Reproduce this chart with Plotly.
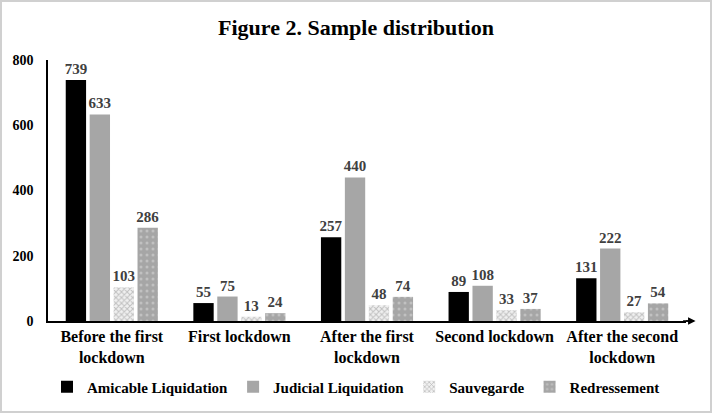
import plotly.graph_objects as go

categories = ["Before the first<br>lockdown", "First lockdown", "After the first<br>lockdown",
              "Second lockdown", "After the second<br>lockdown"]
amicable = [739, 55, 257, 89, 131]
judicial = [633, 75, 440, 108, 222]
sauvegarde = [103, 13, 48, 33, 27]
redressement = [286, 24, 74, 37, 54]
y_ticks = [0, 200, 400, 600, 800]

FONT = "Liberation Serif"
tfont = dict(family=FONT, size=15, color="#404040", weight="bold")

fig = go.Figure()
fig.add_bar(name="Amicable Liquidation", x=categories, y=amicable, marker_color="#000000",
            text=amicable)
fig.add_bar(name="Judicial Liquidation", x=categories, y=judicial, marker_color="#a6a6a6",
            text=judicial)
fig.add_bar(name="Sauvegarde", x=categories, y=sauvegarde,
            marker=dict(color="#ffffff",
                        pattern=dict(shape="x", fgcolor="#909090", bgcolor="#f0f0f0", size=4, solidity=0.45)),
            text=sauvegarde)
fig.add_bar(name="Redressement", x=categories, y=redressement,
            marker=dict(color="#a6a6a6",
                        pattern=dict(shape=".", fgcolor="#dcdcdc", bgcolor="#a6a6a6", size=6, solidity=0.2)),
            text=redressement)
fig.update_traces(textposition="outside", textfont=tfont, constraintext="none",
                  cliponaxis=False, marker_line_width=0)

fig.update_layout(
    width=712, height=413,
    paper_bgcolor="white", plot_bgcolor="white",
    margin=dict(l=48, r=26, t=60, b=92, autoexpand=False),
    title=dict(text="Figure 2. Sample distribution", x=0.5, xanchor="center",
               xref="container", y=1 - 27 / 413, yanchor="middle",
               font=dict(family=FONT, size=22, color="#000000", weight="bold")),
    barmode="group", bargap=0.25, bargroupgap=0.15,
    showlegend=True,
    legend=dict(orientation="h", x=0.5, xanchor="center", xref="container",
                y=1 - 387 / 413, yanchor="middle", yref="container",
                font=dict(family=FONT, size=15, color="#000000", weight="bold"), itemwidth=30,
                traceorder="normal"),
    font=dict(family=FONT),
)
fig.update_xaxes(showline=True, linecolor="#000000", linewidth=1.5, ticks="",
                 tickfont=dict(family=FONT, size=16, color="#000000", weight="bold"),
                 showgrid=False, automargin=False)
fig.update_yaxes(range=[0, 800], tickvals=y_ticks, showline=True, linecolor="#000000",
                 linewidth=1.5, showgrid=False, zeroline=False, ticks="",
                 tickfont=dict(family=FONT, size=14, color="#000000", weight="bold"),
                 ticklabelstandoff=10, automargin=False)

# axis arrow at right end of x axis
fig.add_annotation(xref="paper", yref="paper", x=1.015, y=0, ax=-14, ay=0,
                   axref="pixel", ayref="pixel", showarrow=True, arrowhead=2,
                   arrowsize=1, arrowwidth=1.5, arrowcolor="#000000", text="")
fig.add_shape(type="line", xref="paper", yref="paper", x0=1.0, x1=1.01, y0=0, y1=0,
              line=dict(color="#000000", width=1.5))

# outer frame
fig.add_shape(type="rect", xref="paper", yref="paper", x0=-47/638, x1=1 + 25/638,
              y0=-91/261, y1=1 + 59/261, line=dict(color="#d0d0d0", width=2))

fig.write_html("out.html", config={"displayModeBar": False},
               post_script="document.body.style.margin='0';")
